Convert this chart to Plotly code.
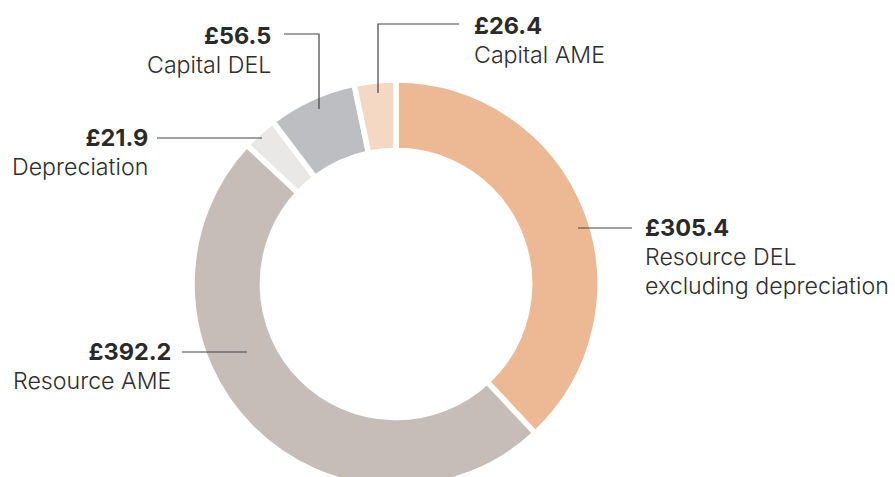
import plotly.graph_objects as go

labels = ["Resource DEL excluding depreciation", "Resource AME", "Depreciation", "Capital DEL", "Capital AME"]
values = [305.4, 392.2, 21.9, 56.5, 26.4]
colors = ["#EDB994", "#C6BDB8", "#EAE8E6", "#BDBEC2", "#F5D8C4"]
value_text = ["£305.4", "£392.2", "£21.9", "£56.5", "£26.4"]
label_lines = [["Resource DEL", "excluding depreciation"], ["Resource AME"], ["Depreciation"], ["Capital DEL"], ["Capital AME"]]

W, H = 895, 490
cx, cy, R = 396, 284, 204

fig = go.Figure()
fig.add_trace(go.Pie(
    labels=labels, values=values, sort=False, direction="clockwise", rotation=0,
    hole=0.655, textinfo="none", hoverinfo="label+value",
    marker=dict(colors=colors, line=dict(color="white", width=5.5)),
    domain=dict(x=[(cx - R) / W, (cx + R) / W], y=[1 - (cy + R) / H, 1 - (cy - R) / H]),
    showlegend=False,
))
# invisible pixel-space axes for annotations
fig.add_trace(go.Scatter(x=[0, W], y=[0, H], mode="markers", marker=dict(opacity=0), hoverinfo="skip", showlegend=False))

# label layout: (anchor x, xanchor, first line center y)
layout_pos = [
    (643, "left", 227),
    (173, "right", 351),
    (150, "right", 137),
    (273, "right", 35),
    (472, "left", 25),
]
LINE = 29
leaders = [
    [(578, 228), (632, 228)],
    [(182, 352), (247, 352)],
    [(157, 138), (262, 138)],
    [(284, 34), (319, 34), (319, 109)],
    [(459, 24), (378, 24), (378, 93)],
]

annotations = []
shapes = []
for i in range(len(values)):
    x, xa, vy = layout_pos[i]
    lines = ["<b><span style='font-size:23.5px;color:#2a2a2a'>" + value_text[i] + "</span></b>"]
    lines += ["<span style='font-size:23.2px'>" + t + "</span>" for t in label_lines[i]]
    n = len(lines)
    yc = vy + LINE * (n - 1) / 2
    annotations.append(dict(x=x, y=yc, xref="x", yref="y", text="<br>".join(lines),
                            showarrow=False, xanchor=xa, yanchor="middle", align=xa,
                            font=dict(family="Inter", size=LINE / 1.3, weight=300, color="#2e2e2e")))
    pts = leaders[i]
    path = "M " + " L ".join(f"{px},{py}" for px, py in pts)
    shapes.append(dict(type="path", path=path, xref="x", yref="y", line=dict(color="#444444", width=1.2)))

fig.update_layout(
    width=W, height=H, margin=dict(l=0, r=0, t=0, b=0),
    paper_bgcolor="white", plot_bgcolor="rgba(0,0,0,0)",
    xaxis=dict(range=[0, W], visible=False, domain=[0, 1], fixedrange=True),
    yaxis=dict(range=[H, 0], visible=False, domain=[0, 1], fixedrange=True),
    annotations=annotations, shapes=shapes,
)
fig.write_html("out.html", config={"displayModeBar": False},
               post_script="document.body.style.margin='0';document.body.style.overflow='hidden';")
